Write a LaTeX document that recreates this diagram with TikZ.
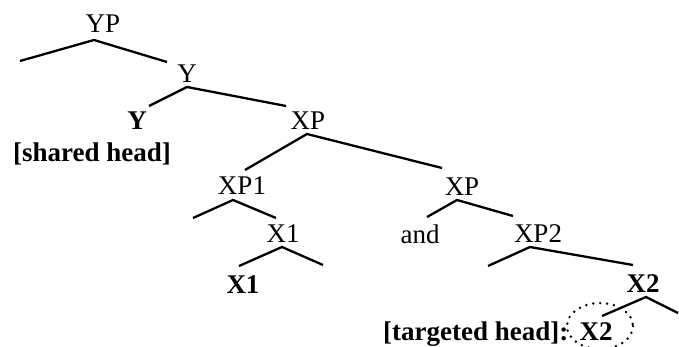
\documentclass[tikz,border=0pt]{standalone}
\usepackage{fontspec}
\setmainfont{Liberation Serif}
\begin{document}
\begin{tikzpicture}[x=1pt,y=-1pt,
  lbl/.style={anchor=base,inner sep=0pt,font=\fontsize{27}{32}\selectfont},
  blbl/.style={lbl,font=\fontsize{27}{32}\selectfont\bfseries},
  br/.style={line width=2.3pt},
  ring/.style={line width=2.7pt,line cap=round,dash pattern=on 0pt off 7pt}]
\useasboundingbox (0,0) rectangle (679,347);
% labels
\node[lbl] (YP) at (103,33) {YP};
\node[lbl] (Y) at (187,83) {Y};
\node[blbl] (Yh) at (137,130) {Y};
\node[blbl] (sh) at (92,162) {[shared head]};
\node[lbl] (XP) at (308,130) {XP};
\node[lbl] (XP1) at (242,195) {XP1};
\node[lbl] (XPb) at (462,196) {XP};
\node[lbl] (X1) at (283,242) {X1};
\node[lbl] (and) at (420,243) {and};
\node[lbl] (XP2) at (538,242) {XP2};
\node[blbl] (X1h) at (243,293) {X1};
\node[blbl] (X2) at (643,292) {X2};
\node[blbl,anchor=base west] (th) at (383,340) {[targeted head]:};
\node[blbl] (X2h) at (596,340) {X2};
\draw[ring] (600,326) ellipse [x radius=33, y radius=23];
% apexes and ends
\coordinate (aYP) at (94,40);  \coordinate (eYPl) at (20,61);  \coordinate (eYPr) at (167,62);
\coordinate (aY) at (187,87);  \coordinate (eYl) at (149,106); \coordinate (eYr) at (286,106);
\coordinate (aXP) at (307,134); \coordinate (eXPl) at (245,170); \coordinate (eXPr) at (442,168);
\coordinate (aXP1) at (233,200); \coordinate (eXP1l) at (193,218); \coordinate (eXP1r) at (276,218);
\coordinate (aXPb) at (457,200); \coordinate (eXPbl) at (427,217); \coordinate (eXPbr) at (513,216);
\coordinate (aX1) at (282,247); \coordinate (eX1l) at (239,266); \coordinate (eX1r) at (323,265);
\coordinate (aXP2) at (530,247); \coordinate (eXP2l) at (488,266); \coordinate (eXP2r) at (633,265);
\coordinate (aX2) at (646,297); \coordinate (eX2l) at (602,316); \coordinate (eX2r) at (678,313);
\draw[br] (eYPl) -- (aYP) -- (eYPr);
\draw[br] (eYl) -- (aY) -- (eYr);
\draw[br] (eXPl) -- (aXP) -- (eXPr);
\draw[br] (eXP1l) -- (aXP1) -- (eXP1r);
\draw[br] (eXPbl) -- (aXPb) -- (eXPbr);
\draw[br] (eX1l) -- (aX1) -- (eX1r);
\draw[br] (eXP2l) -- (aXP2) -- (eXP2r);
\draw[br] (eX2l) -- (aX2) -- (eX2r);
\end{tikzpicture}
\end{document}
